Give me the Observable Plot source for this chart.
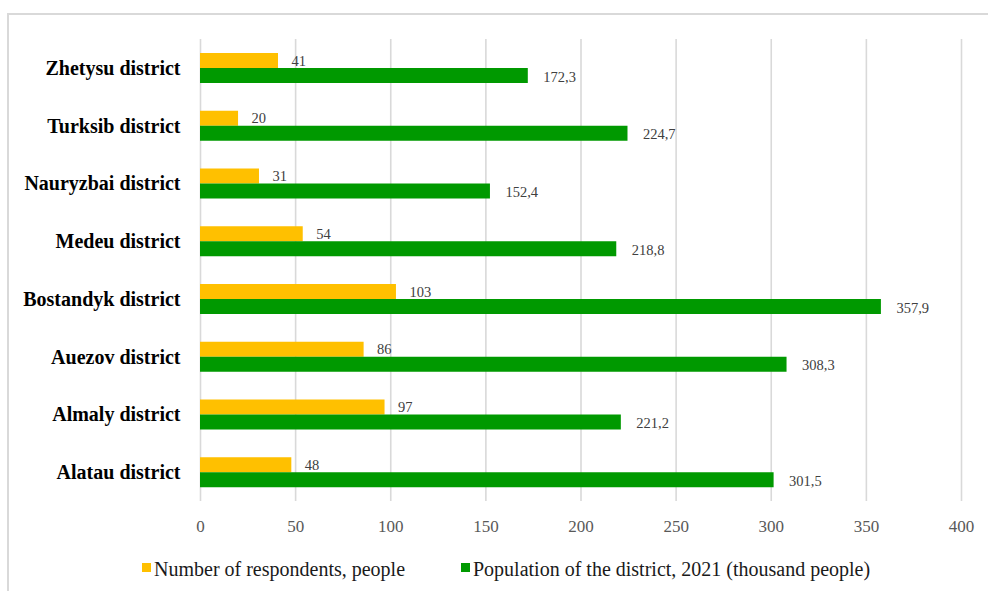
<!DOCTYPE html>
<html>
<head>
<meta charset="utf-8">
<script src="https://cdn.jsdelivr.net/npm/d3@7"></script>
<script src="https://cdn.jsdelivr.net/npm/@observablehq/plot@0.6"></script>
<style>
  html, body { margin: 0; padding: 0; background: #fff; overflow: hidden; }
  #wrap { position: relative; width: 988px; height: 591px; overflow: hidden; font-family: "Liberation Serif", "Times New Roman", serif; }
  #frame { position: absolute; left: 7px; top: 13px; width: 1000px; height: 600px; border: 2px solid #d9d9d9; box-sizing: border-box; }
  #chart { position: absolute; left: 0; top: 0; }
  .key { position: absolute; width: 9px; height: 9px; }
  .key-label { position: absolute; font-size: 20px; color: #1a1a1a; line-height: 20px; white-space: nowrap; }
</style>
</head>
<body>
<div id="wrap">
  <div id="frame"></div>
  <div id="chart"></div>
  <div id="legend"></div>
</div>
<script>
// Districts of Almaty, top to bottom
const districts = [
  "Zhetysu district", "Turksib district", "Nauryzbai district", "Medeu district",
  "Bostandyk district", "Auezov district", "Almaly district", "Alatau district"
];
// Survey respondents per district (people)
const respondents = [41, 20, 31, 54, 103, 86, 97, 48];
// District population in 2021 (thousand people)
const population = [172.3, 224.7, 152.4, 218.8, 357.9, 308.3, 221.2, 301.5];
const xTicks = [0, 50, 100, 150, 200, 250, 300, 350, 400];
const seriesNames = ["Number of respondents, people", "Population of the district, 2021 (thousand people)"];
const seriesColors = ["#FFC000", "#009900"];

const rowsA = districts.map((d, i) => ({district: d, value: respondents[i]}));
const rowsB = districts.map((d, i) => ({district: d, value: population[i]}));
const fmt = v => String(v).replace(".", ",");

const W = 988, H = 545, plotTop = 39, plotBottom = 501;
const band = (plotBottom - plotTop) / districts.length;

const chart = Plot.plot({
  width: W,
  height: H,
  marginLeft: 200,
  marginRight: 27,
  marginTop: plotTop,
  marginBottom: H - plotBottom,
  style: {fontFamily: "'Liberation Serif', 'Times New Roman', serif", background: "transparent"},
  x: {domain: [0, 400], ticks: xTicks},
  y: {type: "band", domain: districts, padding: 0, round: false},
  marks: [
    Plot.gridX(xTicks, {stroke: "#d9d9d9", strokeOpacity: 1, strokeWidth: 1.6}),
    Plot.barX(rowsA, {x: "value", y: "district", fill: seriesColors[0],
      insetTop: 14, insetBottom: band - 29}),
    Plot.barX(rowsB, {x: "value", y: "district", fill: seriesColors[1],
      insetTop: 29, insetBottom: band - 44}),
    Plot.text(rowsA, {x: "value", y: "district", text: d => fmt(d.value), textAnchor: "start",
      dx: 13, dy: 21.5 - band / 2, fill: "#404040", fontSize: 14.5}),
    Plot.text(rowsB, {x: "value", y: "district", text: d => fmt(d.value), textAnchor: "start",
      dx: 15, dy: 36.5 - band / 2 + 1, fill: "#404040", fontSize: 14.5}),
    Plot.axisX(xTicks, {tickSize: 0, tickPadding: 18, fontSize: 17, fill: "#595959", label: null}),
    Plot.axisY({tickSize: 0, tickPadding: 20, fontSize: 20, fontWeight: "bold", fill: "#000", label: null})
  ]
});
document.getElementById("chart").appendChild(chart);

// Legend below the plot
const legend = document.getElementById("legend");
const keyX = [142, 461];
seriesNames.forEach((name, i) => {
  const sw = document.createElement("div");
  sw.className = "key";
  sw.style.left = keyX[i] + "px";
  sw.style.top = "563px";
  sw.style.background = seriesColors[i];
  legend.appendChild(sw);
  const lab = document.createElement("div");
  lab.className = "key-label";
  lab.style.left = (keyX[i] + 12) + "px";
  lab.style.top = "559px";
  lab.textContent = name;
  legend.appendChild(lab);
});
</script>
</body>
</html>
